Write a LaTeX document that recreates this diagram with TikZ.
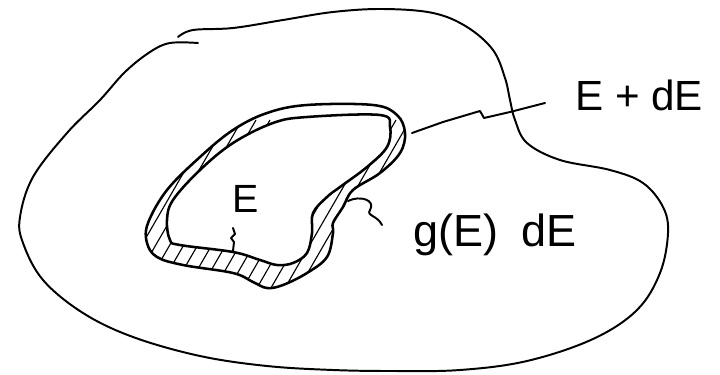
\documentclass[tikz,border=0pt]{standalone}
\usepackage{fontspec}
\setmainfont{Liberation Sans}
\usetikzlibrary{calc,positioning}

\begin{document}
\begin{tikzpicture}[x=0.025cm,y=-0.025cm,
    rim/.style={line width=1.4pt, line cap=round, line join=round},
    band/.style={line width=1.8pt, line join=round},
    hatch/.style={line width=0.8pt},
    lbl/.style={inner sep=0pt, font=\fontsize{30}{32}\selectfont}]
\useasboundingbox (0,0) rectangle (720,374);

% outer region
\draw[rim] plot[smooth, tension=0.6] coordinates {(198,43) (170,43) (150,52) (125,72) (100,100) (67,133) (33,177) (20,217) (23,243) (43,280) (83,313) (133,337) (200,356) (267,366) (333,370) (393,371) (460,370) (527,361) (593,339) (637,310) (660,273) (668,233) (663,207) (643,183) (610,170) (560,160) (527,143) (515,120) (510,100) (505,78) (493,50) (467,27) (433,13) (383,9) (333,12) (283,20) (233,28) (193,30) (178,37)};

% shell between E and E+dE
\begin{scope}[even odd rule]
    \clip
      plot[smooth cycle, tension=0.6] coordinates {(267,113) (307,105) (373,105) (397,115) (405,133) (400,153) (380,173) (353,190) (343,207) (333,223) (333,233) (327,257) (307,273) (283,285) (267,288) (253,282) (233,273) (183,265) (157,257) (147,243) (148,223) (167,190) (200,157) (233,130)}
      plot[smooth cycle, tension=0.6] coordinates {(273,123) (307,117) (380,115) (390,127) (387,147) (367,167) (340,187) (327,197) (313,213) (312,233) (307,253) (293,263) (277,265) (260,260) (233,252) (180,245) (170,240) (167,220) (173,200) (200,170) (233,143)};
    \foreach \s in {40,54,...,420}
        \draw[hatch] (\s,300) -- ++(104,-180);
\end{scope}
\draw[band] plot[smooth cycle, tension=0.6] coordinates {(267,113) (307,105) (373,105) (397,115) (405,133) (400,153) (380,173) (353,190) (343,207) (333,223) (333,233) (327,257) (307,273) (283,285) (267,288) (253,282) (233,273) (183,265) (157,257) (147,243) (148,223) (167,190) (200,157) (233,130)};
\draw[band] plot[smooth cycle, tension=0.6] coordinates {(273,123) (307,117) (380,115) (390,127) (387,147) (367,167) (340,187) (327,197) (313,213) (312,233) (307,253) (293,263) (277,265) (260,260) (233,252) (180,245) (170,240) (167,220) (173,200) (200,170) (233,143)};

% labels
\node[lbl, font=\fontsize{28}{30}\selectfont] (Ein) at (246,199) {E};
\node[lbl, anchor=west] (Eplus) at (575,95) {E + dE};
\node[lbl, font=\fontsize{32}{34}\selectfont] (gE) at (495,235) {g(E)\,\,\,dE};

% leaders
\coordinate (bandR) at (412,133);
\coordinate (tipR) at (545,103);
\coordinate (bandS) at (348,201);
\coordinate (tipS) at (382,225);
\coordinate (Ebot) at (233,251);
\draw[rim] (bandR) -- (443,122) -- (480,111) -- (484,118) -- (510,112) -- (tipR);
\draw[rim] (bandS) .. controls (360,195) and (376,200) .. (370,210)
    .. controls (366,216) and (377,215) .. (tipS);
\draw[rim] (Ebot) -- (234,242) -- (231,238) -- (235,234) -- (233,228);
\end{tikzpicture}
\end{document}
